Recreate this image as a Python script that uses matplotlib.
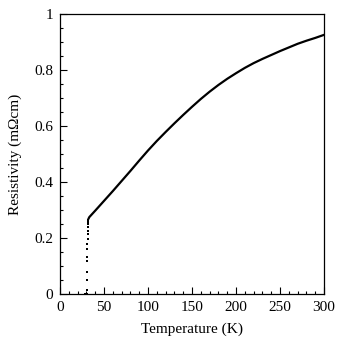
import matplotlib
matplotlib.use("Agg")
import matplotlib.pyplot as plt
from matplotlib.ticker import MultipleLocator

plt.rcParams['font.family'] = ['Liberation Serif', 'DejaVu Serif']

# Superconducting transition (dense points near Tc)
t_trans = [28.0, 29.0, 30.0, 30.8, 31.0, 31.0, 31.0, 31.1, 31.1, 31.2, 31.2,
           31.3, 31.3, 31.4, 31.4, 31.5, 31.6, 31.8]
rho_trans = [0.0, 0.0, 0.0, 0.0, 0.014, 0.05, 0.08, 0.12, 0.131, 0.161, 0.179,
             0.196, 0.214, 0.226, 0.238, 0.25, 0.258, 0.265]

# Normal-state resistivity
t_normal = [32.2, 33.3, 40, 50, 60, 70, 80, 90, 100, 110, 120, 130, 140, 150,
            160, 170, 180, 190, 200, 210, 220, 230, 240, 250, 260, 270, 280,
            290, 300]
rho_normal = [0.268, 0.275, 0.298, 0.333, 0.368, 0.404, 0.440, 0.477, 0.513,
              0.547, 0.579, 0.610, 0.640, 0.669, 0.697, 0.723, 0.747, 0.769,
              0.789, 0.808, 0.825, 0.840, 0.854, 0.868, 0.881, 0.894, 0.905,
              0.915, 0.926]

fig = plt.figure(figsize=(3.39, 3.44), dpi=100)
ax = fig.add_axes([0.177, 0.145, 0.779, 0.814])

ax.plot(t_normal, rho_normal, color='black', lw=1.6, solid_capstyle='round',
        solid_joinstyle='round')
ax.plot(t_trans, rho_trans, ls='none', marker='s', ms=1.6, color='black', mew=0)

ax.set_xlim(0, 300)
ax.set_ylim(0, 1)
ax.xaxis.set_major_locator(MultipleLocator(50))
ax.xaxis.set_minor_locator(MultipleLocator(10))
ax.yaxis.set_major_locator(MultipleLocator(0.2))
ax.yaxis.set_minor_locator(MultipleLocator(0.05))
ax.tick_params(which='both', direction='in', top=False, right=False, width=0.8)
ax.tick_params(which='major', length=5, labelsize=11, pad=5)
ax.tick_params(which='minor', length=2.5)
ax.yaxis.set_major_formatter(plt.FuncFormatter(lambda v, p: f"{v:g}"))

for s in ax.spines.values():
    s.set_linewidth(0.9)

ax.set_xlabel('Temperature (K)', fontsize=11, labelpad=6)
ax.set_ylabel('Resistivity (m\u03a9cm)', fontsize=11, labelpad=9)

fig.savefig('out.png', dpi=100)
